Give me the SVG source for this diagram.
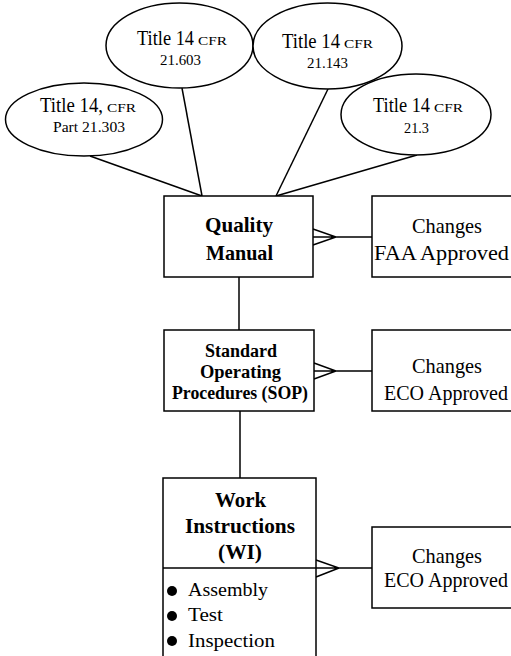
<svg xmlns="http://www.w3.org/2000/svg" width="511" height="656" viewBox="0 0 511 656">
  <style>
    .shape { fill: #ffffff; stroke: #000000; stroke-width: 1.5; }
    .wire { fill: none; stroke: #000000; stroke-width: 1.5; }
    text { font-family: "Liberation Serif", "Times New Roman", serif; fill: #000000; }
    .big { font-size: 20px; }
    .small { font-size: 13px; }
    .num { font-size: 14px; }
    .head { font-size: 21px; font-weight: bold; }
    .sop { font-size: 18px; font-weight: bold; }
    .wi { font-size: 22px; font-weight: bold; }
    .item { font-size: 19px; }
    .chg { font-size: 22px; }
    .chg2 { font-size: 20px; }
  </style>
  <rect width="511" height="656" fill="#ffffff"/>

  <!-- connectors -->
  <g id="connectors" class="wire">
    <line x1="90" y1="156" x2="202" y2="196"/>
    <line x1="182" y1="88" x2="202" y2="196"/>
    <line x1="328" y1="89" x2="276" y2="196"/>
    <line x1="417" y1="155" x2="276" y2="196"/>
    <line x1="239" y1="277" x2="239" y2="330"/>
    <line x1="240" y1="411" x2="240" y2="478"/>
    <!-- crow's feet toward the change boxes -->
    <path d="M313 229 L336 237 L313 245 M313 237 L372 237"/>
    <path d="M314 363 L336 371 L314 379 M314 371 L372 371"/>
    <path d="M316 560 L339 568 L316 577 M316 568 L372 568"/>
  </g>

  <!-- regulation ellipses -->
  <g id="cfr-21-303">
    <ellipse class="shape" cx="84" cy="119.5" rx="78.5" ry="36.5"/>
    <text class="big" x="40" y="112" textLength="63" lengthAdjust="spacingAndGlyphs">Title 14,</text>
    <text class="small" x="107" y="112" textLength="29" lengthAdjust="spacingAndGlyphs">CFR</text>
    <text class="num" x="53" y="132" textLength="72" lengthAdjust="spacingAndGlyphs">Part 21.303</text>
  </g>
  <g id="cfr-21-603">
    <ellipse class="shape" cx="179.5" cy="45.5" rx="73.5" ry="42.5"/>
    <text class="big" x="137" y="45" textLength="57" lengthAdjust="spacingAndGlyphs">Title 14</text>
    <text class="small" x="198" y="45" textLength="29" lengthAdjust="spacingAndGlyphs">CFR</text>
    <text class="num" x="160" y="65" textLength="41" lengthAdjust="spacingAndGlyphs">21.603</text>
  </g>
  <g id="cfr-21-143">
    <ellipse class="shape" cx="327.5" cy="46" rx="74.5" ry="43"/>
    <text class="big" x="282" y="48" textLength="58" lengthAdjust="spacingAndGlyphs">Title 14</text>
    <text class="small" x="344" y="48" textLength="29" lengthAdjust="spacingAndGlyphs">CFR</text>
    <text class="num" x="307" y="68" textLength="41" lengthAdjust="spacingAndGlyphs">21.143</text>
  </g>
  <g id="cfr-21-3">
    <ellipse class="shape" cx="416" cy="114.5" rx="75" ry="40.5"/>
    <text class="big" x="373" y="112" textLength="57" lengthAdjust="spacingAndGlyphs">Title 14</text>
    <text class="small" x="434" y="112" textLength="29" lengthAdjust="spacingAndGlyphs">CFR</text>
    <text class="num" x="404" y="133" textLength="25" lengthAdjust="spacingAndGlyphs">21.3</text>
  </g>

  <!-- document hierarchy -->
  <g id="quality-manual">
    <rect class="shape" x="164" y="196" width="149" height="81"/>
    <text class="head" x="205" y="232" textLength="68" lengthAdjust="spacingAndGlyphs">Quality</text>
    <text class="head" x="206" y="260" textLength="67" lengthAdjust="spacingAndGlyphs">Manual</text>
  </g>
  <g id="sop">
    <rect class="shape" x="164" y="330" width="150" height="81"/>
    <text class="sop" x="205" y="357" textLength="72" lengthAdjust="spacingAndGlyphs">Standard</text>
    <text class="sop" x="200" y="378" textLength="81" lengthAdjust="spacingAndGlyphs">Operating</text>
    <text class="sop" x="172" y="399" textLength="136" lengthAdjust="spacingAndGlyphs">Procedures (SOP)</text>
  </g>
  <g id="work-instructions">
    <rect class="shape" x="163" y="478" width="153" height="200"/>
    <line class="wire" x1="163" y1="568" x2="316" y2="568"/>
    <text class="wi" x="215" y="507" textLength="51" lengthAdjust="spacingAndGlyphs">Work</text>
    <text class="wi" x="185" y="533" textLength="110" lengthAdjust="spacingAndGlyphs">Instructions</text>
    <text class="wi" x="218" y="559" textLength="44" lengthAdjust="spacingAndGlyphs">(WI)</text>
    <circle cx="172" cy="591" r="5"/>
    <circle cx="172" cy="616" r="5"/>
    <circle cx="172" cy="641" r="5"/>
    <text class="item" x="188" y="596" textLength="80" lengthAdjust="spacingAndGlyphs">Assembly</text>
    <text class="item" x="188" y="621" textLength="35" lengthAdjust="spacingAndGlyphs">Test</text>
    <text class="item" x="188" y="647" textLength="87" lengthAdjust="spacingAndGlyphs">Inspection</text>
  </g>

  <!-- change-control boxes -->
  <g id="changes-faa">
    <rect class="shape" x="372" y="196" width="150" height="81"/>
    <text class="chg" x="412" y="233" textLength="70" lengthAdjust="spacingAndGlyphs">Changes</text>
    <text class="chg" x="374" y="260" textLength="135" lengthAdjust="spacingAndGlyphs">FAA Approved</text>
  </g>
  <g id="changes-eco-sop">
    <rect class="shape" x="372" y="330" width="150" height="81"/>
    <text class="chg" x="412" y="373" textLength="70" lengthAdjust="spacingAndGlyphs">Changes</text>
    <text class="chg2" x="384" y="400" textLength="124" lengthAdjust="spacingAndGlyphs">ECO Approved</text>
  </g>
  <g id="changes-eco-wi">
    <rect class="shape" x="372" y="527" width="150" height="81"/>
    <text class="chg" x="412" y="563" textLength="70" lengthAdjust="spacingAndGlyphs">Changes</text>
    <text class="chg2" x="384" y="587" textLength="124" lengthAdjust="spacingAndGlyphs">ECO Approved</text>
  </g>
</svg>
